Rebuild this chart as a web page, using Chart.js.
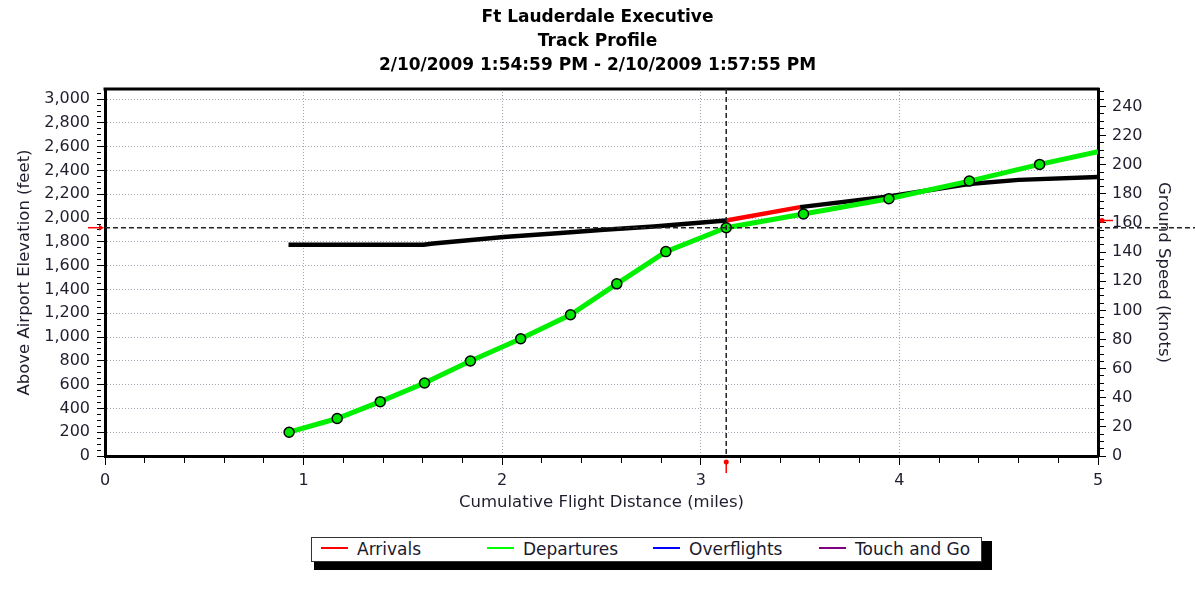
<!DOCTYPE html>
<html>
<head>
<meta charset="utf-8">
<title>Ft Lauderdale Executive - Track Profile</title>
<script src="https://cdn.jsdelivr.net/npm/chart.js@4.4.1/dist/chart.umd.min.js"></script>
<style>
  body { margin: 0; background: #fff; }
  #wrap { position: relative; width: 1195px; height: 589px; }
  #legendShadow { position: absolute; left: 314px; top: 541px; width: 678px; height: 29px; background: #000; }
  #legend { position: absolute; left: 311px; top: 537px; width: 669px; height: 23px; background: #fff;
            border: 1px solid #333; font: 17px "DejaVu Sans", sans-serif; color: #1a1a2e; }
  .item { position: absolute; top: 0; height: 23px; line-height: 23px; white-space: nowrap; }
  .swatch { position: absolute; top: 9px; left: 0; width: 27px; height: 2px; }
  .label { position: absolute; left: 36px; top: 0; }
</style>
</head>
<body>
<div id="wrap">
  <canvas id="chart" width="1195" height="589"></canvas>
  <div id="legendShadow"></div>
  <div id="legend"></div>
</div>
<script>
// Werte
const titleLines = ['Ft Lauderdale Executive', 'Track Profile', '2/10/2009 1:54:59 PM - 2/10/2009 1:57:55 PM'];

// Departure track: altitude above airport (feet) over cumulative distance (miles)
const departureMiles = [0.927, 1.169, 1.386, 1.609, 1.840, 2.093, 2.344, 2.577, 2.824, 3.128, 3.517, 3.947, 4.352, 4.706, 5.0];
const departureAltitude = [200, 315, 457, 614, 799, 986, 1187, 1447, 1718, 1919, 2034, 2163, 2311, 2451, 2557];

// Ground speed trace (knots), right axis
const speedMiles = [0.924, 1.604, 1.653, 2.008, 2.277, 2.512, 2.764, 3.128, 3.5, 3.946, 4.349, 4.601, 5.0];
const groundSpeed = [145, 145, 145.9, 150.3, 153, 155.3, 157.6, 161.7, 170.9, 178.2, 186.7, 189.6, 191.5];
const highlightMiles = [3.128, 3.5];   // red stretch of the speed trace

// Cursor position
const cursorMiles = 3.128;
const cursorAltitude = 1919;
const cursorSpeed = 161.7;

const legendLabels = ['Arrivals', 'Departures', 'Overflights', 'Touch and Go'];
const legendColors = ['#ff0000', '#00ff00', '#0000ff', '#800080'];

Chart.defaults.font.family = '"DejaVu Sans", sans-serif';

const tickColor = '#1e1e2e';
const gridColor = '#a4a4b6';
const xMajor = v => Math.abs(v - Math.round(v)) < 1e-6;
const altMajor = v => Math.round(v) % 200 === 0;
const spdMajor = v => Math.round(v) % 20 === 0;

// Fadenkreuz + roter Marker + obere Rahmenlinie
const cursorPlugin = {
    id: 'cursor',
    afterDraw(chart) {
        const { ctx, chartArea: a, scales } = chart;
        const cx = scales.x.getPixelForValue(cursorMiles);
        const cy = scales.yAlt.getPixelForValue(cursorAltitude);
        const sy = scales.ySpeed.getPixelForValue(cursorSpeed);
        ctx.save();
        ctx.strokeStyle = '#000';
        ctx.lineWidth = 3;
        ctx.beginPath();
        ctx.moveTo(a.left - 1.5, a.top);
        ctx.lineTo(a.right + 1.5, a.top);
        ctx.stroke();

        ctx.setLineDash([5, 3]);
        ctx.lineWidth = 1.5;
        ctx.strokeStyle = '#222';
        ctx.beginPath();
        ctx.moveTo(cx, a.top);
        ctx.lineTo(cx, a.bottom);
        ctx.moveTo(a.left, cy);
        ctx.lineTo(chart.width, cy);
        ctx.stroke();
        ctx.setLineDash([]);

        ctx.strokeStyle = '#ff0000';
        ctx.fillStyle = '#ff0000';
        ctx.lineWidth = 1.5;
        // left arrow
        ctx.beginPath();
        ctx.moveTo(a.left - 17, cy);
        ctx.lineTo(a.left - 4, cy);
        ctx.stroke();
        ctx.beginPath();
        ctx.moveTo(a.left - 1, cy);
        ctx.lineTo(a.left - 6, cy - 3);
        ctx.lineTo(a.left - 6, cy + 3);
        ctx.closePath();
        ctx.fill();
        // bottom marker
        ctx.beginPath();
        ctx.moveTo(cx, a.bottom + 4);
        ctx.lineTo(cx, a.bottom + 17);
        ctx.stroke();
        ctx.beginPath();
        ctx.arc(cx, a.bottom + 6, 2.5, 0, Math.PI * 2);
        ctx.fill();
        // right marker
        ctx.beginPath();
        ctx.moveTo(a.right + 2, sy);
        ctx.lineTo(a.right + 15, sy);
        ctx.stroke();
        ctx.beginPath();
        ctx.arc(a.right + 4, sy, 2.5, 0, Math.PI * 2);
        ctx.fill();
        ctx.restore();
    }
};

new Chart(document.getElementById('chart'), {
    type: 'line',
    data: {
        datasets: [
            {
                label: 'Departures',
                data: departureMiles.map((x, i) => ({ x, y: departureAltitude[i] })),
                yAxisID: 'yAlt',
                borderColor: '#00f000',
                borderWidth: 5,
                tension: 0,
                pointRadius: ctx => ctx.dataIndex < departureMiles.length - 1 ? 5 : 0,
                pointBackgroundColor: '#00e600',
                pointBorderColor: '#000',
                pointBorderWidth: 1.5
            },
            {
                label: 'Ground Speed',
                data: speedMiles.map((x, i) => ({ x, y: groundSpeed[i] })),
                yAxisID: 'ySpeed',
                borderColor: '#000',
                borderWidth: 4.5,
                tension: 0,
                pointRadius: 0,
                segment: {
                    borderColor: ctx => (ctx.p0.parsed.x >= highlightMiles[0] - 1e-6 &&
                        ctx.p1.parsed.x <= highlightMiles[1] + 1e-6) ? '#ff0000' : undefined
                }
            }
        ]
    },
    options: {
        responsive: false,
        animation: false,
        layout: { padding: 0 },
        plugins: {
            legend: { display: false },
            tooltip: { enabled: false },
            title: {
                display: true,
                text: titleLines,
                color: '#000',
                font: { size: 17, weight: 'bold', lineHeight: '24px' },
                padding: { top: 6, bottom: 11 }
            }
        },
        scales: {
            x: {
                type: 'linear',
                min: 0,
                max: 5,
                afterFit: s => { s.height = 133; },
                ticks: {
                    stepSize: 0.2,
                    autoSkip: false,
                    maxRotation: 0,
                    padding: 6,
                    color: tickColor,
                    font: { size: 16 },
                    callback: v => xMajor(v) ? String(Math.round(v)) : ''
                },
                grid: {
                    color: ctx => (ctx.tick && xMajor(ctx.tick.value)) ? gridColor : 'rgba(0,0,0,0)',
                    tickLength: 9,
                    tickColor: '#000',
                    tickWidth: 1,
                    tickBorderDash: ctx => (ctx.tick && xMajor(ctx.tick.value)) ? [] : [5, 40]
                },
                border: { color: '#000', width: 3, dash: [1, 2] },
                title: {
                    display: true,
                    text: 'Cumulative Flight Distance (miles)',
                    color: tickColor,
                    font: { size: 16.5 },
                    padding: { top: 0, bottom: 76 }
                }
            },
            yAlt: {
                type: 'linear',
                position: 'left',
                min: 0,
                max: 3085,
                afterFit: s => { s.width = 105; },
                ticks: {
                    stepSize: 50,
                    includeBounds: false,
                    autoSkip: false,
                    padding: 7,
                    color: tickColor,
                    font: { size: 16 },
                    callback: v => altMajor(v) ? v.toLocaleString('en-US') : ''
                },
                grid: {
                    color: ctx => (ctx.tick && altMajor(ctx.tick.value)) ? gridColor : 'rgba(0,0,0,0)',
                    tickLength: 8,
                    tickColor: '#000',
                    tickWidth: 1,
                    tickBorderDash: ctx => (ctx.tick && altMajor(ctx.tick.value)) ? [] : [4, 40]
                },
                border: { color: '#000', width: 3, dash: [1, 2] },
                title: {
                    display: true,
                    text: 'Above Airport Elevation (feet)',
                    color: tickColor,
                    font: { size: 16.5 },
                    padding: { top: 15, bottom: 0 }
                }
            },
            ySpeed: {
                type: 'linear',
                position: 'right',
                min: 0,
                max: 252,
                afterFit: s => { s.width = 97; },
                ticks: {
                    stepSize: 5,
                    includeBounds: false,
                    autoSkip: false,
                    padding: 6,
                    color: tickColor,
                    font: { size: 16 },
                    callback: v => spdMajor(v) ? String(v) : ''
                },
                grid: {
                    drawOnChartArea: false,
                    tickLength: 8,
                    tickColor: '#000',
                    tickWidth: 1,
                    tickBorderDash: ctx => (ctx.tick && spdMajor(ctx.tick.value)) ? [] : [4, 40]
                },
                border: { color: '#000', width: 3 },
                title: {
                    display: true,
                    text: 'Ground Speed (knots)',
                    color: tickColor,
                    font: { size: 16.5 },
                    padding: { top: 22, bottom: 0 }
                }
            }
        }
    },
    plugins: [cursorPlugin]
});

// Legende als HTML-Box mit Schatten
const legendBox = document.getElementById('legend');
legendLabels.forEach((name, i) => {
    const item = document.createElement('div');
    item.className = 'item';
    item.style.left = (9 + 166 * i) + 'px';
    const sw = document.createElement('div');
    sw.className = 'swatch';
    sw.style.background = legendColors[i];
    const lbl = document.createElement('span');
    lbl.className = 'label';
    lbl.textContent = name;
    item.appendChild(sw);
    item.appendChild(lbl);
    legendBox.appendChild(item);
});
</script>
</body>
</html>
